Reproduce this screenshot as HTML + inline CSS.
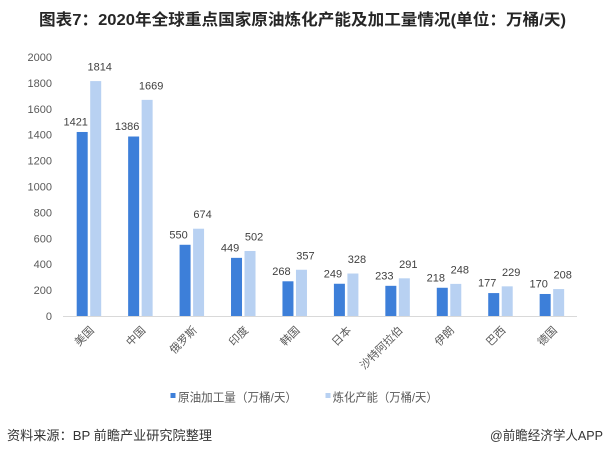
<!DOCTYPE html>
<html><head><meta charset="utf-8"><style>
html,body{margin:0;padding:0;background:#fff;}
svg{display:block;}
text{font-family:"Liberation Sans","Noto Sans CJK SC",sans-serif;}
</style></head><body>
<svg width="605" height="455" viewBox="0 0 605 455" xmlns="http://www.w3.org/2000/svg">
<rect width="605" height="455" fill="#fff"/>
<text x="302.5" y="25" text-anchor="middle" font-size="16" font-weight="bold" fill="#262626" textLength="527" lengthAdjust="spacingAndGlyphs">图表7：2020年全球重点国家原油炼化产能及加工量情况(单位：万桶/天)</text>
<g font-size="11" fill="#595959" text-anchor="end">
<text x="52" y="320">0</text>
<text x="52" y="294.1">200</text>
<text x="52" y="268.2">400</text>
<text x="52" y="242.3">600</text>
<text x="52" y="216.4">800</text>
<text x="52" y="190.5">1000</text>
<text x="52" y="164.6">1200</text>
<text x="52" y="138.7">1400</text>
<text x="52" y="112.8">1600</text>
<text x="52" y="86.9">1800</text>
<text x="52" y="61">2000</text>
</g>
<line x1="63" y1="316.5" x2="577" y2="316.5" stroke="#d9d9d9" stroke-width="1"/>
<g id="bars"></g>
<g font-size="11" fill="#404040" text-anchor="middle" id="labels"></g>
<g font-size="11" fill="#595959" text-anchor="end" id="xl"></g>
<rect x="170.5" y="393" width="5" height="5" fill="#3d7fd9"/>
<text x="178" y="401.5" font-size="12" fill="#595959" textLength="119" lengthAdjust="spacingAndGlyphs">原油加工量（万桶/天）</text>
<rect x="325.5" y="393" width="5" height="5" fill="#b8d1f2"/>
<text x="332.7" y="401.5" font-size="12" fill="#595959" textLength="105" lengthAdjust="spacingAndGlyphs">炼化产能（万桶/天）</text>
<text x="7" y="440" font-size="13" fill="#333" textLength="205" lengthAdjust="spacingAndGlyphs">资料来源：BP 前瞻产业研究院整理</text>
<text x="603" y="440" font-size="13" fill="#333" text-anchor="end" textLength="113" lengthAdjust="spacingAndGlyphs">@前瞻经济学人APP</text>
</svg>
<script>
(function(){
var ns="http://www.w3.org/2000/svg";
var names=["美国","中国","俄罗斯","印度","韩国","日本","沙特阿拉伯","伊朗","巴西","德国"];
var a=[1421,1386,550,449,268,249,233,218,177,170];
var b=[1814,1669,674,502,357,328,291,248,229,208];
var bars=document.getElementById("bars"),labels=document.getElementById("labels"),xl=document.getElementById("xl");
function y(v){return 316-v*0.1295;}
for(var i=0;i<10;i++){
 var c=88.7+51.44*i;
 var r1=document.createElementNS(ns,"rect");
 r1.setAttribute("x",c-12);r1.setAttribute("width",11);r1.setAttribute("y",y(a[i]));r1.setAttribute("height",316-y(a[i]));r1.setAttribute("fill","#3d7fd9");bars.appendChild(r1);
 var r2=document.createElementNS(ns,"rect");
 r2.setAttribute("x",c+1.5);r2.setAttribute("width",11);r2.setAttribute("y",y(b[i]));r2.setAttribute("height",316-y(b[i]));r2.setAttribute("fill","#b8d1f2");bars.appendChild(r2);
 var t1=document.createElementNS(ns,"text");t1.setAttribute("x",c-13);t1.setAttribute("y",y(a[i])-6.5);t1.textContent=a[i];labels.appendChild(t1);
 var t2=document.createElementNS(ns,"text");t2.setAttribute("x",c+11);t2.setAttribute("y",y(b[i])-10.5);t2.textContent=b[i];labels.appendChild(t2);
 var t3=document.createElementNS(ns,"text");var ex=c+6,ey=331;
 t3.setAttribute("x",ex);t3.setAttribute("y",ey);t3.setAttribute("transform","rotate(-45 "+ex+" "+ey+")");t3.textContent=names[i];xl.appendChild(t3);
}
})();
</script>
</body></html>
